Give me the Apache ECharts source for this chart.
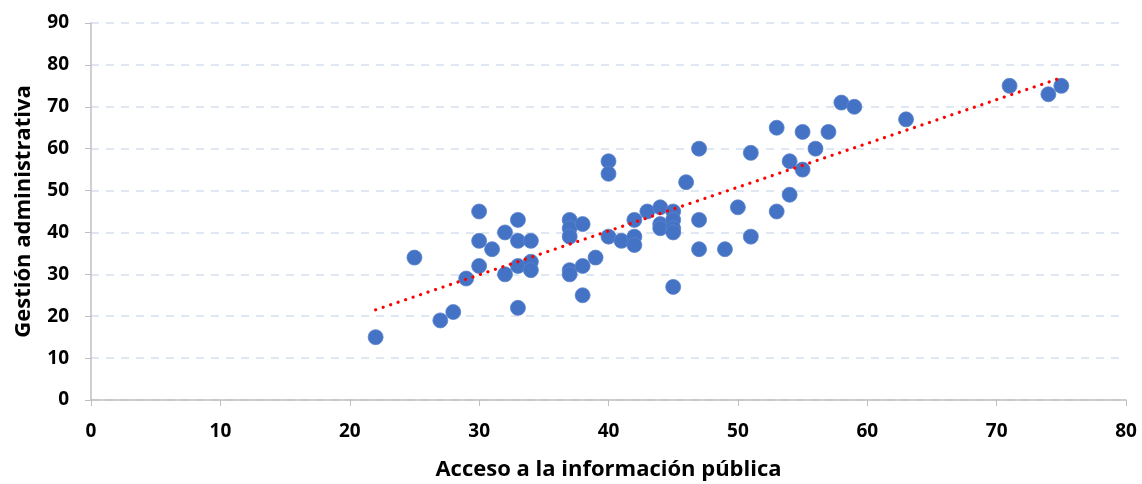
<!DOCTYPE html>
<html>
<head>
<meta charset="utf-8">
<script src="https://cdn.jsdelivr.net/npm/echarts@6/dist/echarts.min.js"></script>
<style>
html,body{margin:0;padding:0;background:#fff;}
#chart{width:1142px;height:484px;}
</style>
</head>
<body>
<div id="chart"></div>
<script>
// Acceso a la información pública (x) values
const accesoX = [22,25,27,28,29,30,30,30,31,32,32,33,33,33,33,34,34,34,
  37,37,37,37,37,38,38,38,39,40,40,40,41,42,42,42,43,44,44,44,
  45,45,45,45,45,46,47,47,47,49,50,51,51,53,53,54,54,55,55,56,57,58,59,63,71,74,75];
// Gestión administrativa (y) values
const gestionY = [15,34,19,21,29,45,38,32,36,40,30,43,38,32,22,38,33,31,
  43,41,39,31,30,42,32,25,34,57,54,39,38,43,39,37,45,46,42,41,
  45,43,41,40,27,52,60,43,36,36,46,59,39,65,45,57,49,64,55,60,64,71,70,67,75,73,75];
const xTicks = [0,10,20,30,40,50,60,70,80];
const yTicks = [0,10,20,30,40,50,60,70,80,90];

const points = accesoX.map((x,i)=>[x,gestionY[i]]);
// least-squares linear trendline
const n = points.length;
let sx=0,sy=0,sxx=0,sxy=0;
points.forEach(([x,y])=>{sx+=x;sy+=y;sxx+=x*x;sxy+=x*y;});
const b = (n*sxy-sx*sy)/(n*sxx-sx*sx);
const a = (sy-b*sx)/n;
const xmin = Math.min(...accesoX), xmax = Math.max(...accesoX);
const trend = [[xmin,a+b*xmin],[xmax,a+b*xmax]];

const font = '"Open Sans", "Liberation Sans", Arial, sans-serif';
const chart = echarts.init(document.getElementById('chart'));
chart.setOption({
  animation:false,
  grid:{left:91,right:16,top:23,bottom:84,containLabel:false,outerBoundsMode:'none'},
  xAxis:{
    type:'value',min:xTicks[0],max:xTicks[xTicks.length-1],interval:10,
    name:'Acceso a la información pública',nameLocation:'middle',nameGap:59,
    nameTextStyle:{fontFamily:font,fontWeight:'bold',fontSize:22,color:'#000'},
    axisLine:{show:true,lineStyle:{color:'#BFBFBF',width:1.5}},
    axisTick:{show:true,length:6,lineStyle:{color:'#BFBFBF'}},
    axisLabel:{margin:22,fontFamily:font,fontWeight:'bold',fontSize:19,color:'#000'},
    splitLine:{show:false}
  },
  yAxis:{
    type:'value',min:yTicks[0],max:yTicks[yTicks.length-1],interval:10,
    name:'Gestión administrativa',nameLocation:'middle',nameGap:56,
    nameTextStyle:{fontFamily:font,fontWeight:'bold',fontSize:22,color:'#000'},
    axisLine:{show:true,lineStyle:{color:'#BFBFBF',width:1.5}},
    axisTick:{show:true,length:6,lineStyle:{color:'#BFBFBF'}},
    axisLabel:{margin:22,fontFamily:font,fontWeight:'bold',fontSize:19,color:'#000'},
    splitLine:{show:true,lineStyle:{color:'#D5E0F0',width:1.5,type:[8,7]}}
  },
  series:[
    {
      type:'scatter',data:points,symbolSize:15,
      itemStyle:{color:'#4472C4',borderColor:'#5a84cc',borderWidth:0.8,opacity:1}
    },
    {
      type:'line',data:trend,symbol:'none',silent:true,
      lineStyle:{color:'#FF0000',width:3.2,type:[0.1,7.8],cap:'round'},
      z:3
    }
  ]
});
</script>
</body>
</html>
